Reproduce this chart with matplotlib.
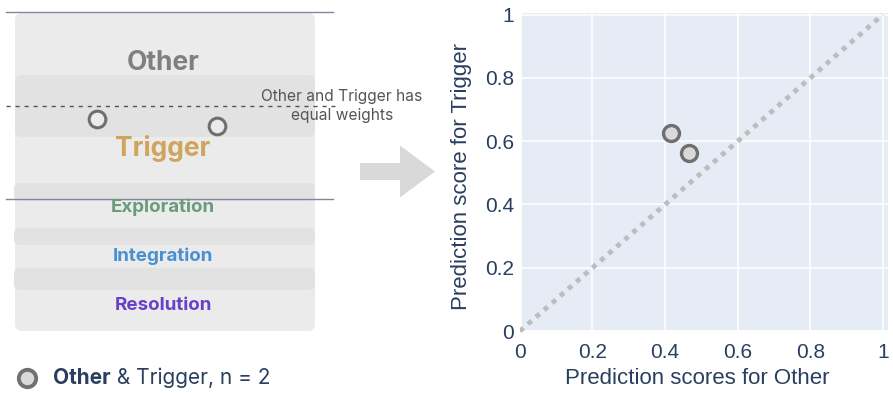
import matplotlib
matplotlib.use("Agg")
import matplotlib.pyplot as plt
from matplotlib.patches import FancyBboxPatch, FancyArrow

# ---------------- data ----------------
other_scores = [0.415, 0.465]      # x: prediction scores for Other
trigger_scores = [0.627, 0.563]    # y: prediction scores for Trigger
diag_x = [0, 1]
diag_y = [0, 1]
tick_values = [0, 0.2, 0.4, 0.6, 0.8, 1]
tick_labels = ["0", "0.2", "0.4", "0.6", "0.8", "1"]

# schematic (left panel, pixel-like coordinates)
stage_names = ["Other", "Trigger", "Exploration", "Integration", "Resolution"]
stage_colors = ["#7f7f7f", "#cfa55e", "#6a9c7c", "#4a8fd2", "#6a40c8"]
stage_y = [63, 148, 207, 256, 305]
schematic_pts_x = [97, 217]
schematic_pts_y = [119, 126]
legend_label_bold = "Other"
legend_label_rest = " & Trigger, n = 2"

W, H = 893, 393
fig = plt.figure(figsize=(W / 100, H / 100), dpi=100)
fig.patch.set_facecolor("white")

LFONT = ["Inter", "DejaVu Sans"]
RFONT = ["Liberation Sans", "DejaVu Sans"]

# ---------------- left schematic ----------------
ax0 = fig.add_axes([0, 0, 1, 1], zorder=0)
ax0.set_xlim(0, W)
ax0.set_ylim(H, 0)
ax0.axis("off")

ax0.add_patch(FancyBboxPatch((15, 13), 300, 318, boxstyle="round,pad=0,rounding_size=7",
                             fc="#ebebeb", ec="none"))
ax0.add_patch(FancyBboxPatch((15, 75), 300, 62, boxstyle="round,pad=0,rounding_size=7",
                             fc="#e2e2e2", ec="none"))
for y0, h in [(183, 18), (228, 17), (268, 22)]:
    ax0.add_patch(FancyBboxPatch((14, y0), 301, h, boxstyle="round,pad=0,rounding_size=6",
                                 fc="#e2e2e2", ec="none"))

ax0.plot([6, 333], [12, 12], color="#7d8898", lw=1)
ax0.plot([6, 333], [199, 199], color="#7d8898", lw=1)
ax0.plot([6, 335], [106, 106], color="#555555", lw=1, ls=(0, (3, 3.5)))

for name, col, y in zip(stage_names, stage_colors, stage_y):
    fs = 19 if name in ("Other", "Trigger") else 13.5
    ax0.text(163, y, name, color=col, fontsize=fs, fontweight="bold",
             family=LFONT, ha="center", va="center")

ax0.plot(schematic_pts_x, schematic_pts_y, ls="none", marker="o", ms=12,
         mfc="#ebebeb", mec="#6f6f6f", mew=2.2)

ax0.text(342, 106, "Other and Trigger has\nequal weights", color="#555555",
         fontsize=11.2, family=LFONT, ha="center", va="center", linespacing=1.35)

ax0.add_patch(FancyArrow(360, 171.5, 75, 0, width=17, head_width=52, head_length=35,
                         length_includes_head=True, fc="#d9d9d9", ec="none"))

# legend
ax0.plot([27], [378], ls="none", marker="o", ms=12.5, mfc="#d9d9d9", mec="#707070", mew=2.8)
t1 = ax0.text(53, 378, legend_label_bold, color="#2a3f5f", fontsize=15,
              fontweight="bold", family=LFONT, ha="left", va="center")
ax0.annotate(legend_label_rest, xy=(1, 0), xycoords=t1, color="#2a3f5f", fontsize=15,
             family=LFONT, ha="left", va="bottom")

# ---------------- right scatter ----------------
left, right, top, bottom = 519.5, 888, 13, 333
ax = fig.add_axes([left / W, 1 - bottom / H, (right - left) / W, (bottom - top) / H], zorder=2)
ax.set_facecolor("#e5ecf6")
ax.set_xlim(-0.001, 1.014)
ax.set_ylim(-0.006, 1.005)
for s in ax.spines.values():
    s.set_visible(False)
ax.set_xticks(tick_values)
ax.set_xticklabels(tick_labels)
ax.set_yticks(tick_values)
ax.set_yticklabels(tick_labels)
ax.tick_params(length=0, labelsize=15, labelcolor="#2a3f5f")
ax.tick_params(axis="x", pad=7)
ax.tick_params(axis="y", pad=4)
for lab in ax.get_xticklabels() + ax.get_yticklabels():
    lab.set_family(RFONT)
ax.grid(True, color="white", lw=1.1)
ax.set_axisbelow(True)
ax.axhline(0, color="white", lw=2, zorder=1)
ax.axvline(0, color="white", lw=2, zorder=1)

ax.plot(diag_x, diag_y, color="#bdbdbd", lw=3.5, ls=(0, (1, 1.2)),
        dash_capstyle="butt", zorder=2)
ax.plot(other_scores, trigger_scores, ls="none", marker="o", ms=11.5,
        mfc="#d9d9d9", mec="#6f6f6f", mew=2.4, zorder=3)

ax.set_xlabel("Prediction scores for Other", fontsize=16, color="#2a3f5f", family=RFONT)
ax.set_ylabel("Prediction score for Trigger", fontsize=16, color="#2a3f5f", family=RFONT)
ax.xaxis.set_label_coords(0.482, -0.11)
ax.yaxis.set_label_coords(-0.128, 0.49)

fig.savefig("out.png", dpi=100)
